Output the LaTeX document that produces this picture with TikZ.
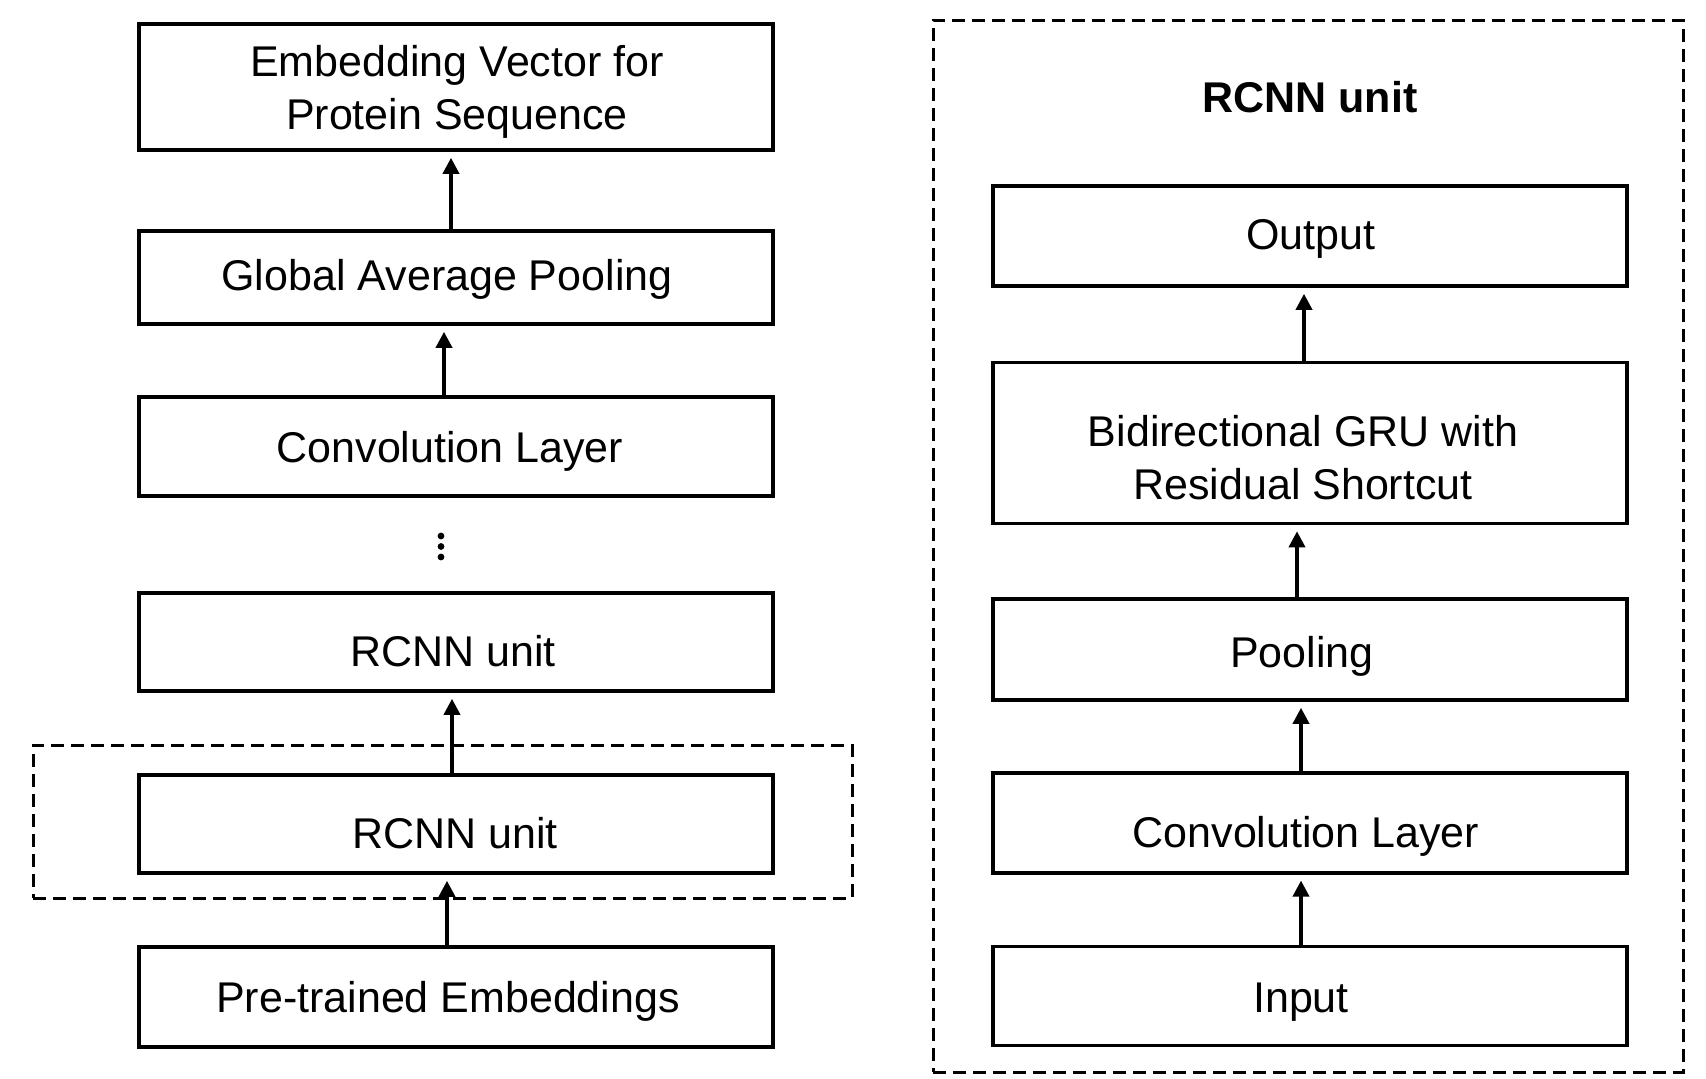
\documentclass[tikz,border=0pt]{standalone}
\usepackage{fontspec}
\setmainfont{Liberation Sans}
\usetikzlibrary{arrows.meta}
\begin{document}
\begin{tikzpicture}[x=1pt,y=-1pt,
  box/.style={draw=black, line width=3.6pt, minimum width=634pt, inner sep=0pt},
  lbl/.style={anchor=base, inner sep=0pt, align=center, font=\fontsize{43}{52.5}\selectfont},
  arr/.style={line width=3.6pt, -{Triangle[width=16pt,length=16pt]}, shorten >=6pt},
  dbox/.style={draw=black, line width=3pt, dash pattern=on 13pt off 7pt, inner sep=0pt}]
\useasboundingbox (0,0) rectangle (1706,1079);

% left column
\node[box, minimum height=126pt] (emb) at (456,87) {};
\node[box, minimum height=93pt] (gap) at (456,277.5) {};
\node[box, minimum height=99pt] (conv) at (456,446.5) {};
\node[box, minimum height=98pt] (rc2) at (456,642) {};
\node[dbox, minimum width=819pt, minimum height=153pt] (grp) at (442.5,821.5) {};
\node[box, minimum height=98pt] (rc1) at (456,824) {};
\node[box, minimum height=100pt] (pre) at (456,997) {};

\node[lbl] (embt) at (457,129) {Embedding Vector for\\Protein Sequence};
\node[lbl] (gapt) at (447,290) {Global Average Pooling};
\node[lbl] (convt) at (450,462.5) {Convolution Layer};
\node[lbl] (rc2t) at (453,666) {RCNN unit};
\node[lbl] (rc1t) at (455,848) {RCNN unit};
\node[lbl] (pret) at (448,1012) {Pre-trained Embeddings};

\fill (441,536) circle (3.4pt) (441,546.5) circle (3.4pt) (441,557) circle (3.4pt);

\draw[arr] ([xshift=-5pt]gap.north) -- ([xshift=-5pt]emb.south);
\draw[arr] ([xshift=-12pt]conv.north) -- ([xshift=-12pt]gap.south);
\draw[arr] ([xshift=-4pt]rc1.north) -- ([xshift=-4pt]rc2.south);
\draw[arr] ([xshift=-9pt]pre.north) -- ([xshift=-9pt]rc1.south);

% right panel
\node[dbox, minimum width=750pt, minimum height=1052pt] (panel) at (1308,546) {};
\node[lbl, font=\fontsize{43}{52.5}\selectfont\bfseries] (title) at (1310,112) {RCNN unit};
\node[box, minimum height=100pt] (out) at (1310,236) {};
\node[box, minimum height=161pt] (bi) at (1310,443) {};
\node[box, minimum height=101pt] (pool) at (1310,649.5) {};
\node[box, minimum height=99.5pt] (rconv) at (1310,823) {};
\node[box, minimum height=99pt] (inp) at (1310,996) {};

\node[lbl] (outt) at (1311,249) {Output};
\node[lbl] (bit) at (1303,499) {Bidirectional GRU with\\Residual Shortcut};
\node[lbl] (poolt) at (1302,667) {Pooling};
\node[lbl] (rconvt) at (1306,847) {Convolution Layer};
\node[lbl] (inpt) at (1301,1012) {Input};

\draw[arr] ([xshift=-6pt]bi.north) -- ([xshift=-6pt]out.south);
\draw[arr] ([xshift=-13pt]pool.north) -- ([xshift=-13pt]bi.south);
\draw[arr] ([xshift=-9pt]rconv.north) -- ([xshift=-9pt]pool.south);
\draw[arr] ([xshift=-9pt]inp.north) -- ([xshift=-9pt]rconv.south);
\end{tikzpicture}
\end{document}
